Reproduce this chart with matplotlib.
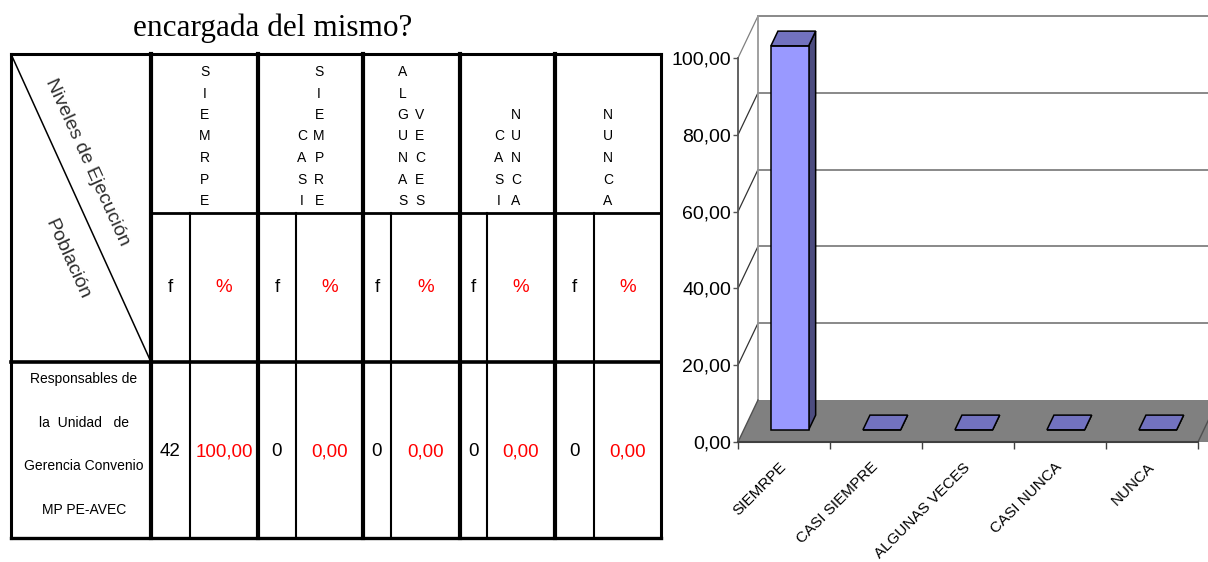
import numpy as np
import matplotlib
matplotlib.use('Agg')
import matplotlib.pyplot as plt
from matplotlib.patches import Polygon
from matplotlib.transforms import offset_copy

# ---- data ----
titulo = 'encargada del mismo?'
categorias = ['SIEMRPE', 'CASI SIEMPRE', 'ALGUNAS VECES', 'CASI NUNCA', 'NUNCA']
encabezados = [['SIEMRPE'], ['CASI', 'SIEMPRE'], ['ALGUNAS', 'VECES'], ['CASI', 'NUNCA'], ['NUNCA']]
frecuencias = [42, 0, 0, 0, 0]
porcentajes = [100.00, 0.00, 0.00, 0.00, 0.00]
poblacion = ['Responsables de', 'la  Unidad   de', 'Gerencia Convenio', 'MP PE-AVEC']
yticks = [0, 20, 40, 60, 80, 100]

def coma(v):
    return f"{v:.2f}".replace('.', ',')

plt.rcParams['font.family'] = ['Liberation Sans', 'DejaVu Sans']

fig = plt.figure(figsize=(12.08, 5.62), dpi=100)

# ---- table (pixel coordinates) ----
tab = fig.add_axes([0, 0, 1, 1])
tab.set_xlim(0, 1208)
tab.set_ylim(562, 0)
tab.axis('off')

def hline(y, x0, x1, lw):
    tab.plot([x0, x1], [y, y], color='black', lw=lw, solid_capstyle='projecting')

def vline(x, y0, y1, lw):
    tab.plot([x, x], [y0, y1], color='black', lw=lw, solid_capstyle='projecting')

L, R, T, B = 11, 661, 54, 538
y_head, y_row = 213, 362
x_grp = [151, 258, 363, 460, 555, R]
x_sub = [190, 296, 391, 487, 594]

hline(T, L, R, 2.2)
hline(B, L, R, 2.4)
vline(L, T, B, 2.2)
vline(R, T, B, 2.2)
hline(y_head, x_grp[0], R, 2.0)
hline(y_row, L, R, 2.6)
for x in x_grp[:-1]:
    vline(x, T, B, 3.0)
for x in x_sub:
    vline(x, y_head, B, 1.5)
tab.plot([L, x_grp[0]], [T, y_row], color='black', lw=1.1)

tab.text(273, 28, titulo, family='Liberation Serif', fontsize=22.5,
         ha='center', va='center')

tab.text(87, 162, 'Niveles de Ejecución', rotation=-65.6, fontsize=14,
         color='#2e2e2e', ha='center', va='center', rotation_mode='anchor')
tab.text(67, 259, 'Población', rotation=-65.6, fontsize=14,
         color='#2e2e2e', ha='center', va='center', rotation_mode='anchor')

# stacked letters in the header
for i, words in enumerate(encabezados):
    cx = (x_grp[i] + x_grp[i + 1]) / 2
    offs = [0] if len(words) == 1 else [-8.5, 8.5]
    for w, dx in zip(words, offs):
        n = len(w)
        for k, ch in enumerate(w):
            yy = 72 + 21.5 * (7 - n + k)
            tab.text(cx + dx, yy, ch, fontsize=10, ha='center', va='center')

# f / % row and values
for i in range(5):
    fx = (x_grp[i] + x_sub[i]) / 2
    px = (x_sub[i] + x_grp[i + 1]) / 2
    tab.text(fx, 288, 'f', fontsize=13.5, ha='center', va='center')
    tab.text(px, 288, '%', fontsize=13.5, color='red', ha='center', va='center')
    tab.text(fx, 452, str(frecuencias[i]), fontsize=13.5, ha='center', va='center')
    tab.text(px, 452, coma(porcentajes[i]), fontsize=13.5, color='red',
             ha='center', va='center')

for k, line in enumerate(poblacion):
    tab.text(84, 379 + 43.7 * k, line, fontsize=10, ha='center', va='center')

# ---- 3D-looking bar chart ----
ax = fig.add_axes([738 / 1208, 120 / 562, 460 / 1208, 384 / 562])
ax.patch.set_visible(False)
ax.set_xlim(0, 5)
ax.set_ylim(0, 100)

DX = 20 / 92.0      # depth shift in category units
DY = 42 / 3.84      # depth shift in value units

def p(x, y, d):
    return (x + d * DX, y + d * DY)

# back wall
for v in yticks[1:]:
    ax.plot([DX, 5.6], [v + DY, v + DY], color='#808080', lw=1.3, clip_on=False, zorder=1)
    ax.plot([0, DX], [v, v + DY], color='#808080' if v == 100 else '#333333',
            lw=0.9, clip_on=False, zorder=1)
ax.plot([DX, DX], [DY, 100 + DY], color='#999999', lw=1.3, clip_on=False, zorder=1)

# floor
ax.add_patch(Polygon([p(0, 0, 0), p(5.6, 0, 0), p(5.6, 0, 1), p(0, 0, 1)],
                     closed=True, fc='#808080', ec='none', clip_on=False, zorder=1.5))
ax.plot([0, DX], [0, DY], color='#505050', lw=1, clip_on=False, zorder=1.6)
ax.plot([5, 5 + DX], [0, DY], color='#505050', lw=1, clip_on=False, zorder=1.6)

# bars
bw, f0, f1 = 0.41, 0.29, 0.64
for i, v in enumerate(porcentajes):
    x0, x1 = i + 0.5 - bw / 2, i + 0.5 + bw / 2
    front = [p(x0, 0, f0), p(x1, 0, f0), p(x1, v, f0), p(x0, v, f0)]
    side = [p(x1, 0, f0), p(x1, 0, f1), p(x1, v, f1), p(x1, v, f0)]
    top = [p(x0, v, f0), p(x1, v, f0), p(x1, v, f1), p(x0, v, f1)]
    for verts, col in [(side, '#4C4C7F'), (front, '#9999FF'), (top, '#7272BF')]:
        ax.add_patch(Polygon(verts, closed=True, fc=col, ec='black', lw=1.1,
                             joinstyle='miter', clip_on=False, zorder=3))

for s in ['top', 'right']:
    ax.spines[s].set_visible(False)
ax.spines['left'].set_color('#555555')
ax.spines['left'].set_linewidth(1.3)
ax.spines['bottom'].set_color('#404040')
ax.spines['bottom'].set_linewidth(1.5)

ax.set_yticks(yticks)
ax.set_yticklabels([coma(v) for v in yticks])
ax.tick_params(axis='y', length=3.6, width=1, pad=1.5, labelsize=14, color='#555555')

ax.set_xticks(range(6))
ax.set_xticklabels([])
ax.tick_params(axis='x', which='major', length=5, width=1, color='#404040')

# rotated category labels, top-right end under each category centre
lab_tr = offset_copy(ax.transData, fig=fig, x=-5, y=-18, units='dots')
for i, lab in enumerate(categorias):
    ax.text(i + 0.5, 0, lab, transform=lab_tr, rotation=45, ha='right', va='top',
            rotation_mode='anchor', fontsize=11, clip_on=False)

fig.savefig('out.png', dpi=100)
